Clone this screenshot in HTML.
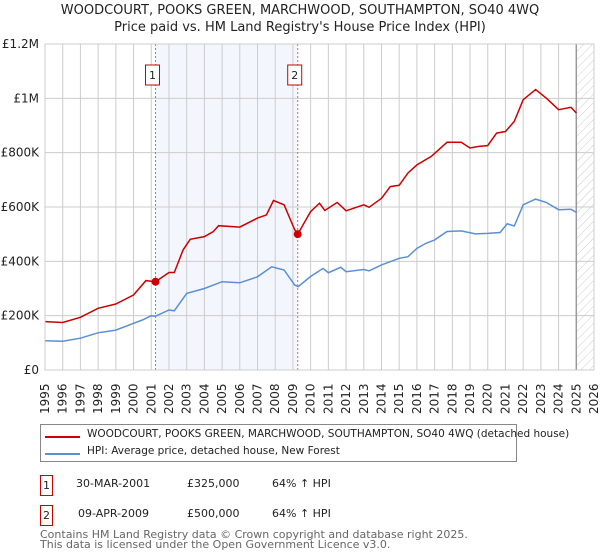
<!DOCTYPE html>
<html><head><meta charset="utf-8"><style>
body{margin:0;background:#fff;font-family:"DejaVu Sans","Liberation Sans",sans-serif;}
svg{display:block}
</style></head><body>
<svg width="600" height="560" viewBox="0 0 600 560" xmlns="http://www.w3.org/2000/svg">
<g id="root"></g>
</svg>
<script>
const years=[1995,1996,1997,1998,1999,2000,2001,2002,2003,2004,2005,2006,2007,2008,2009,2010,2011,2012,2013,2014,2015,2016,2017,2018,2019,2020,2021,2022,2023,2024,2025,2026];
const yTicks=[0,200000,400000,600000,800000,1000000,1200000];
const yTickLabels=["£0","£200K","£400K","£600K","£800K","£1M","£1.2M"];
const hpiT=[1995,1996,1997,1998,1999,2000,2000.5,2001,2001.24,2002,2002.3,2003,2004,2005,2006,2007,2007.8,2008.5,2009.1,2009.3,2010,2010.7,2011,2011.7,2012,2013,2013.3,2014,2015,2015.5,2016,2016.5,2017,2017.7,2018.5,2019.3,2020,2020.7,2021.1,2021.5,2022,2022.7,2023.3,2024,2024.7,2025];
const hpiV=[108000,106000,117000,137000,147000,172000,184000,200000,198000,221000,218000,282000,300000,325000,321000,343000,380000,368000,313000,307000,344000,374000,358000,378000,362000,370000,365000,387000,411000,417000,448000,466000,479000,510000,512000,501000,503000,506000,538000,530000,608000,629000,617000,590000,592000,580000];
const redT=[1995,1996,1997,1998,1999,2000,2000.7,2001.24,2002,2002.3,2002.8,2003.2,2004,2004.5,2004.8,2006,2007,2007.5,2007.9,2008.5,2009.1,2009.27,2010,2010.5,2010.8,2011.5,2012,2013,2013.3,2014,2014.5,2015,2015.5,2016,2016.8,2017.7,2018.5,2019,2019.5,2020,2020.5,2021,2021.5,2022,2022.7,2023.3,2024,2024.7,2025];
const redV=[178000,175000,194000,227000,243000,276000,329000,325000,359000,359000,442000,481000,491000,509000,531000,526000,559000,571000,624000,608000,516000,500000,583000,614000,587000,617000,586000,608000,599000,632000,675000,680000,725000,755000,786000,838000,838000,817000,823000,826000,872000,878000,915000,995000,1032000,1001000,958000,967000,946000];
const saleT=[2001.24,2009.27];
const saleV=[325000,500000];
const saleLabels=["1","2"];

const L=45,R=594,T=44,B=370;
const X=t=>L+(t-1995)/(2026-1995)*(R-L);
const Y=v=>B-v/1200000*(B-T);
const NS="http://www.w3.org/2000/svg";
const root=document.getElementById('root');
function mk(tag,attrs,parent){const e=document.createElementNS(NS,tag);for(const k in attrs)e.setAttribute(k,attrs[k]);(parent||root).appendChild(e);return e;}

let sh=mk('rect',{x:X(saleT[0]),y:T,width:X(saleT[1])-X(saleT[0]),height:B-T,fill:'#eef3fc',opacity:0.7});


const defs=mk('defs',{});
const pat=mk('pattern',{id:'hatch',width:6,height:6,patternUnits:'userSpaceOnUse',patternTransform:'rotate(45)'},defs);
mk('line',{x1:0,y1:0,x2:0,y2:6,stroke:'#ccc','stroke-width':1},pat);
let ht=mk('rect',{x:X(2025),y:T,width:R-X(2025),height:B-T,fill:'url(#hatch)'});


years.forEach(yr=>{let g=mk('line',{x1:X(yr),x2:X(yr),y1:T,y2:B,stroke:'#ccc','stroke-width':1});


let t=mk('text',{x:0,y:0,transform:`translate(${X(yr)+4},${414}) rotate(-90)`,'font-size':12,fill:'#222'});t.textContent=yr;

});
yTicks.forEach((v,i)=>{let g=mk('line',{x1:L,x2:R,y1:Y(v),y2:Y(v),stroke:'#ccc','stroke-width':1});


let t=mk('text',{x:39,y:Y(v)+4,'text-anchor':'end','font-size':12,fill:'#222'});t.textContent=yTickLabels[i];

});
let vl=mk('line',{x1:X(2025),x2:X(2025),y1:T,y2:B,stroke:'#999','stroke-width':1.5});


saleT.forEach((t,i)=>{let l=mk('line',{x1:X(t),x2:X(t),y1:T,y2:B,stroke:'#e06070','stroke-width':1,'stroke-dasharray':'2,2'});


let bx=X(t)-3;
let r=mk('rect',{x:bx-7,y:65,width:14,height:20,fill:'#fff',stroke:'#c00','stroke-width':1});


let tx=mk('text',{x:bx,y:79,'text-anchor':'middle','font-size':11,fill:'#222'});tx.textContent=saleLabels[i];

});
function path(ts,vs){return ts.map((t,i)=>(i?'L':'M')+X(t).toFixed(1)+','+Y(vs[i]).toFixed(1)).join(' ');}
let hp=mk('path',{d:path(hpiT,hpiV),fill:'none',stroke:'#5b8fd4','stroke-width':1.5});


let rp=mk('path',{d:path(redT,redV),fill:'none',stroke:'#cc0000','stroke-width':1.5});


saleT.forEach((t,i)=>{let c=mk('circle',{cx:X(t),cy:Y(saleV[i]),r:4,fill:'#cc0000'});

});
let fr=mk('rect',{x:L,y:T,width:R-L,height:B-T,fill:'none',stroke:'#ccc'});


</script>
<div style="position:absolute;left:0;width:600px;text-align:center;font-size:13px;line-height:17px;color:#222;top:2px">WOODCOURT, POOKS GREEN, MARCHWOOD, SOUTHAMPTON, SO40 4WQ<br>Price paid vs. HM Land Registry's House Price Index (HPI)</div>
<div style="position:absolute;left:40px;top:424px;width:475px;height:36px;border:1px solid #888;font-size:10.5px;color:#222;white-space:nowrap">
<div style="position:absolute;left:4px;top:11px;width:35px;height:2px;background:#cc0000"></div>
<div style="position:absolute;left:46px;top:3px">WOODCOURT, POOKS GREEN, MARCHWOOD, SOUTHAMPTON, SO40 4WQ (detached house)</div>
<div style="position:absolute;left:4px;top:28px;width:35px;height:2px;background:#5b8fd4"></div>
<div style="position:absolute;left:46px;top:20px">HPI: Average price, detached house, New Forest</div>
</div>
<div style="font-size:11px;color:#222">
<div style="position:absolute;left:40px;top:475px;width:11px;height:19px;border:1px solid #c00;text-align:center;line-height:19px">1</div>
<div style="position:absolute;left:76px;top:477px">30-MAR-2001</div>
<div style="position:absolute;left:187px;top:477px">£325,000</div>
<div style="position:absolute;left:272px;top:477px">64% ↑ HPI</div>
<div style="position:absolute;left:40px;top:505px;width:11px;height:19px;border:1px solid #c00;text-align:center;line-height:19px">2</div>
<div style="position:absolute;left:78px;top:507px">09-APR-2009</div>
<div style="position:absolute;left:187px;top:507px">£500,000</div>
<div style="position:absolute;left:272px;top:507px">64% ↑ HPI</div>
</div>
<div style="position:absolute;left:40px;top:530px;font-size:11px;line-height:10px;color:#666">Contains HM Land Registry data © Crown copyright and database right 2025.<br>This data is licensed under the Open Government Licence v3.0.</div>
</body></html>
